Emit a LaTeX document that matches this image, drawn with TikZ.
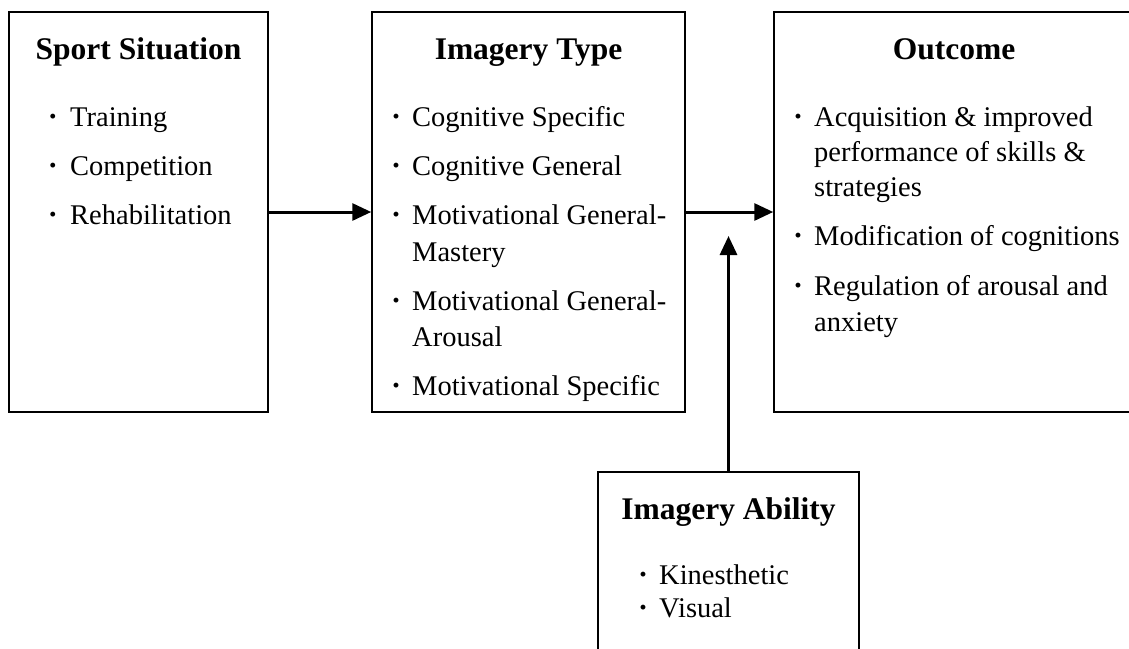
\documentclass[tikz,border=0pt]{standalone}
\usepackage{fontspec}
\setmainfont{Liberation Serif}
\usetikzlibrary{arrows.meta}
\begin{document}
\begin{tikzpicture}[x=1pt, y={(0pt,-1pt)},
  box/.style={draw, line width=1.5pt, inner sep=0pt},
  head/.style={font=\bfseries\fontsize{31.5}{36}\selectfont, anchor=base, inner sep=0pt},
  item/.style={font=\fontsize{28.5}{34}\selectfont, anchor=base west, inner sep=0pt},
  dot/.style={font=\bfseries\fontsize{30}{34}\selectfont, anchor=base, inner sep=0pt},
  arr/.style={line width=3pt, -{Triangle[length=19pt, width=17pt]}}]
\useasboundingbox (0,0) rectangle (1129,648);
\clip (0,0) rectangle (1129,648);

% the four boxes
\node[box, minimum width=259pt, minimum height=400pt] (sit) at (138.5,212) {};
\node[box, minimum width=313pt, minimum height=400pt] (type) at (528.5,212) {};
\node[box, minimum width=360pt, minimum height=400pt] (out) at (954,212) {};
\node[box, minimum width=261pt, minimum height=220pt] (abil) at (728.5,582) {};

% Sport Situation
\node[head] (h1) at (138.5,59) {Sport Situation};
\node[dot] (d11) at (53,126) {·};  \node[item] (s1) at (70,126) {Training};
\node[dot] (d12) at (53,175) {·};  \node[item] (s2) at (70,175) {Competition};
\node[dot] (d13) at (53,224) {·};  \node[item] (s3) at (70,224) {Rehabilitation};

% Imagery Type
\node[head] (h2) at (528.5,59) {Imagery Type};
\node[dot] (d21) at (396,126) {·};  \node[item] (i1) at (412,126) {Cognitive Specific};
\node[dot] (d22) at (396,175) {·};  \node[item] (i2) at (412,175) {Cognitive General};
\node[dot] (d23) at (396,224) {·};  \node[item] (i3) at (412,224) {Motivational General-};
\node[item] (i3b) at (412,261) {Mastery};
\node[dot] (d24) at (396,310) {·};  \node[item] (i4) at (412,310) {Motivational General-};
\node[item] (i4b) at (412,346) {Arousal};
\node[dot] (d25) at (396,395) {·};  \node[item] (i5) at (412,395) {Motivational Specific};

% Outcome
\node[head] (h3) at (954,59) {Outcome};
\node[dot] (d31) at (798,126) {·};  \node[item] (o1) at (814,126) {Acquisition \& improved};
\node[item] (o1b) at (814,161) {performance of skills \&};
\node[item] (o1c) at (814,196) {strategies};
\node[dot] (d32) at (798,245) {·};  \node[item] (o2) at (814,245) {Modification of cognitions};
\node[dot] (d33) at (798,295) {·};  \node[item] (o3) at (814,295) {Regulation of arousal and};
\node[item] (o3b) at (814,331) {anxiety};

% Imagery Ability
\node[head] (h4) at (728.5,519) {Imagery Ability};
\node[dot] (d41) at (643,584) {·};  \node[item] (a1) at (659,584) {Kinesthetic};
\node[dot] (d42) at (643,617) {·};  \node[item] (a2) at (659,617) {Visual};

% connectors
\coordinate (tip) at (728.5,236);
\draw[arr] (sit.east) -- (type.west);
\draw[arr] (type.east) -- (out.west);
\draw[arr] (abil.north) -- (tip);
\end{tikzpicture}
\end{document}
